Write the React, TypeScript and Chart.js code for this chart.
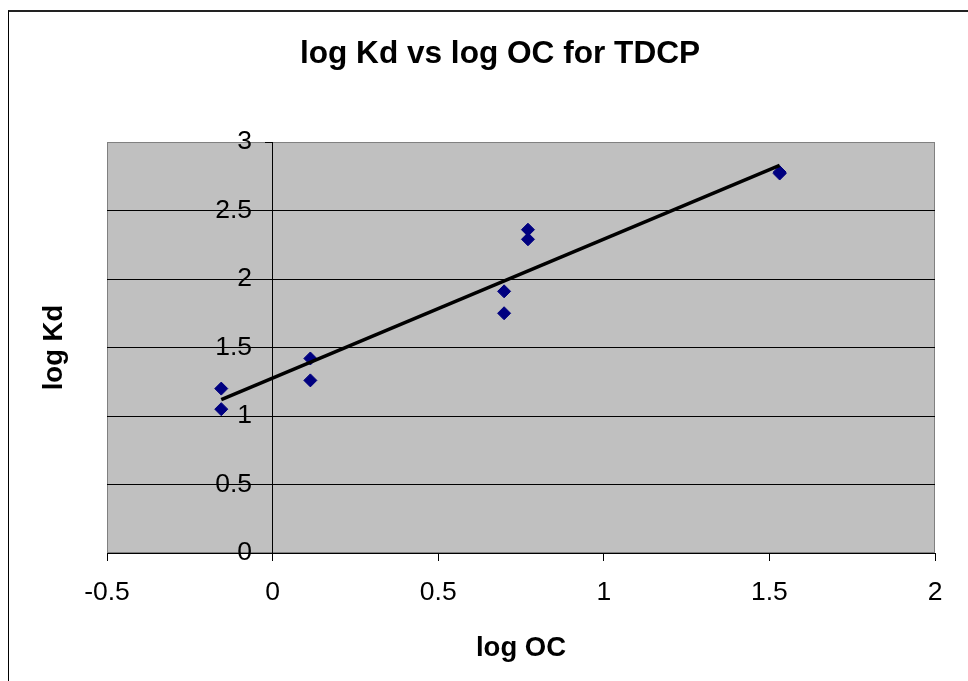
import React, { useEffect, useRef } from 'react';
import { Chart, registerables } from 'chart.js';
Chart.register(...registerables);

const logOC = [-0.155, -0.155, 0.114, 0.114, 0.699, 0.699, 0.771, 0.771, 1.531, 1.531];
const logKd = [1.2, 1.05, 1.42, 1.26, 1.91, 1.75, 2.36, 2.29, 2.78, 2.77];
const trendX = [-0.155, 1.531];
const trendY = [1.12, 2.83];
const xTicks = [-0.5, 0, 0.5, 1, 1.5, 2];
const xTickLabels = ['-0.5', '0', '0.5', '1', '1.5', '2'];
const yTicks = [0, 0.5, 1, 1.5, 2, 2.5, 3];
const yTickLabels = ['0', '0.5', '1', '1.5', '2', '2.5', '3'];
const chartTitle = 'log Kd vs log OC for TDCP';
const xTitle = 'log OC';
const yTitle = 'log Kd';

const FAMILY = "'Liberation Sans', Arial, sans-serif";

const plotBg = {
  id: 'plotBg',
  beforeDraw(chart: any) {
    const { ctx, chartArea: a } = chart;
    ctx.save();
    ctx.fillStyle = '#C0C0C0';
    ctx.fillRect(a.left, a.top, a.right - a.left, a.bottom - a.top);
    ctx.strokeStyle = '#808080';
    ctx.lineWidth = 1;
    ctx.strokeRect(a.left + 0.5, a.top + 0.5, a.right - a.left - 1, a.bottom - a.top - 1);
    ctx.restore();
  },
};

export default function App() {
  const ref = useRef<HTMLCanvasElement | null>(null);
  useEffect(() => {
    if (!ref.current) return;
    const chart = new Chart(ref.current, {
      type: 'scatter',
      data: {
        datasets: [
          {
            label: 'trend',
            data: trendX.map((x, i) => ({ x, y: trendY[i] })),
            showLine: true,
            borderColor: '#000000',
            borderWidth: 3.5,
            pointRadius: 0,
            fill: false,
            xAxisID: 'x',
            yAxisID: 'y',
          } as any,
          {
            label: 'data',
            data: logOC.map((x, i) => ({ x, y: logKd[i] })),
            showLine: false,
            pointStyle: 'rectRot',
            pointRadius: 6.5,
            backgroundColor: '#000080',
            borderColor: '#000080',
            borderWidth: 1,
            xAxisID: 'x',
            yAxisID: 'y',
          } as any,
        ],
      },
      options: {
        animation: false,
        responsive: false,
        layout: { padding: { left: 32, right: 0, top: 0, bottom: 0 } },
        plugins: {
          legend: { display: false },
          tooltip: { enabled: false },
          title: {
            display: true,
            text: chartTitle,
            color: '#000',
            font: { size: 31.6, weight: 'bold', family: FAMILY },
            padding: { top: 35, bottom: 69.1 },
          },
        },
        scales: {
          x: {
            type: 'linear',
            axis: 'x',
            position: 'bottom',
            min: -0.5,
            max: 2,
            afterBuildTicks: (s: any) => {
              s.ticks = xTicks.map((v) => ({ value: v }));
            },
            afterFit: (s: any) => {
              s.height = 128;
            },
            ticks: {
              callback: (_v: any, i: number) => xTickLabels[i],
              color: '#000',
              font: { size: 26.5, family: FAMILY },
              padding: 16,
              maxRotation: 0,
              autoSkip: false,
            },
            grid: { drawOnChartArea: false, drawTicks: true, tickLength: 8, color: '#000', lineWidth: 1 },
            border: { display: true, color: '#000', width: 1 },
            title: {
              display: true,
              text: xTitle,
              color: '#000',
              font: { size: 27.5, weight: 'bold', family: FAMILY },
              padding: { top: 0, bottom: 16.5 },
            },
          },
          y: {
            type: 'linear',
            axis: 'y',
            position: { x: -0.062 },
            min: 0,
            max: 3,
            afterBuildTicks: (s: any) => {
              s.ticks = yTicks.map((v) => ({ value: v }));
            },
            ticks: {
              callback: (_v: any, i: number) => yTickLabels[i],
              color: '#000',
              font: { size: 26.5, family: FAMILY },
              padding: 0,
              autoSkip: false,
            },
            grid: {
              drawTicks: false,
              lineWidth: 1,
              color: (c: any) => (c.tick && c.tick.value === 3 ? 'rgba(0,0,0,0)' : '#000'),
            },
            border: { display: false },
          },
          yAxisLine: {
            type: 'linear',
            axis: 'y',
            position: { x: 0 },
            min: 0,
            max: 3,
            afterBuildTicks: (s: any) => {
              s.ticks = yTicks.map((v) => ({ value: v }));
            },
            ticks: { display: false },
            grid: { drawOnChartArea: false, drawTicks: true, tickLength: 7, color: '#000', lineWidth: 1 },
            border: { display: true, color: '#000', width: 1 },
          },
          yl: {
            type: 'linear',
            axis: 'y',
            position: 'left',
            afterFit: (s: any) => {
              s.width = 75;
            },
            ticks: { display: false },
            grid: { display: false },
            border: { display: false },
            title: {
              display: true,
              text: yTitle,
              color: '#000',
              font: { size: 27.5, weight: 'bold', family: FAMILY },
              padding: { top: 5.5, bottom: 0 },
            },
          },
          yr: {
            type: 'linear',
            axis: 'y',
            position: 'right',
            afterFit: (s: any) => {
              s.width = 33;
            },
            ticks: { display: false },
            grid: { display: false },
            border: { display: false },
          },
        } as any,
      },
      plugins: [plotBg],
    });
    return () => chart.destroy();
  }, []);

  return (
    <div style={{ position: 'fixed', left: 0, top: 0, width: 968, height: 681, background: '#fff' }}>
      <canvas ref={ref} width={968} height={681} style={{ position: 'absolute', left: 0, top: 0 }} />
      <div
        style={{
          position: 'absolute',
          left: 8,
          top: 10,
          right: 0,
          bottom: 0,
          borderLeft: '1px solid #000',
          borderTop: '2px solid #222',
          pointerEvents: 'none',
        }}
      />
    </div>
  );
}
